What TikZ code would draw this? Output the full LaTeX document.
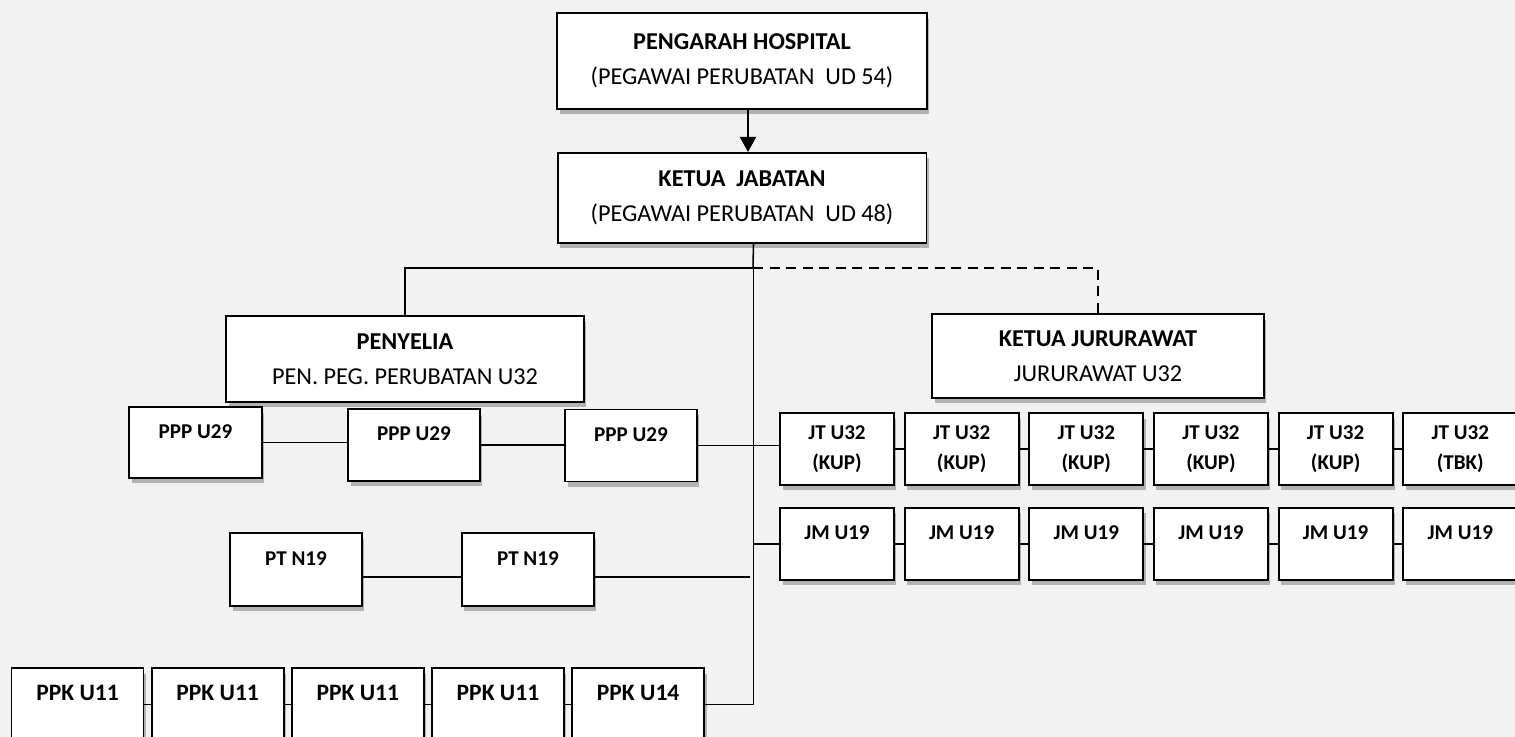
\documentclass[tikz,border=0pt]{standalone}
\usepackage{fontspec}
\setmainfont{Carlito}
\usepackage{xcolor}
\usepackage{tikz}
\usetikzlibrary{arrows.meta,positioning,shadows}
\definecolor{bgcol}{HTML}{F2F2F2}

\begin{document}
\begin{tikzpicture}[
  x=0.02cm, y=-0.02cm,
  boxshadow/.style = {drop shadow={shadow xshift=0.05cm, shadow yshift=-0.11cm,
                      fill=black!60, opacity=0.45}},
  head/.style = {draw, line width=1.1pt, fill=white, align=center,
                 font=\fontsize{13.8}{20}\selectfont, boxshadow},
  cell/.style = {draw, line width=1.1pt, fill=white, align=center,
                 minimum width=2.28cm, minimum height=1.44cm, inner sep=0pt,
                 font=\fontsize{12}{17}\selectfont\bfseries, boxshadow},
  wide/.style = {minimum width=2.64cm},
  single/.style = {text height=0.3cm, text depth=0.47cm},
  link/.style = {line width=0.9pt},
  arr/.style  = {-{Triangle[length=0.3cm, width=0.32cm]}, line width=1.1pt},
]

\fill[bgcol] (0,0) rectangle (1515,737);
\useasboundingbox (0,0) rectangle (1515,737);

% top of the chart
\node[head, minimum width=7.4cm, minimum height=1.92cm] (dir) at (742,61)
  {\textbf{PENGARAH HOSPITAL}\\(PEGAWAI PERUBATAN\ \ UD 54)};
\node[head, minimum width=7.38cm, minimum height=1.8cm, below=0.84cm of dir]
  (jab) {\textbf{KETUA\ \ JABATAN}\\(PEGAWAI PERUBATAN\ \ UD 48)};
\draw[arr] ([xshift=0.12cm]dir.south) -- ([xshift=0.12cm]jab.north);

\node[head, minimum width=7.16cm, minimum height=1.72cm] (pen) at (405,359)
  {\textbf{PENYELIA}\\PEN. PEG. PERUBATAN U32};
\node[head, minimum width=6.64cm, minimum height=1.68cm] (kj) at (1098,356)
  {\textbf{KETUA JURURAWAT}\\JURURAWAT U32};

\coordinate (stem) at ([xshift=0.23cm]jab.south);
\coordinate (fork) at (753,268);
\draw[link] (pen.north) |- (fork);
\draw[link, dash pattern=on 5.7pt off 3.7pt] (fork) -| (kj.north);
\draw[link] (stem) -- (fork);

% PPP row
\node[cell, wide, single, minimum width=2.66cm, minimum height=1.42cm]
  (ppp1) at (195.5,442.5) {PPP U29};
\node[cell, wide, single] (ppp2) at (414,445) {PPP U29};
\node[cell, wide, single] (ppp3) at (631,445.5) {PPP U29};

% JT row
\node[cell] (jt1) at (837,449) {JT U32\\(KUP)};
\node[cell, right=0.175cm of jt1] (jt2) {JT U32\\(KUP)};
\node[cell, right=0.175cm of jt2] (jt3) {JT U32\\(KUP)};
\node[cell, right=0.175cm of jt3] (jt4) {JT U32\\(KUP)};
\node[cell, right=0.175cm of jt4] (jt5) {JT U32\\(KUP)};
\node[cell, right=0.175cm of jt5] (jt6) {JT U32\\(TBK)};

% JM row
\node[cell, single, below=0.42cm of jt1] (jm1) {JM U19};
\node[cell, single, right=0.175cm of jm1] (jm2) {JM U19};
\node[cell, single, right=0.175cm of jm2] (jm3) {JM U19};
\node[cell, single, right=0.175cm of jm3] (jm4) {JM U19};
\node[cell, single, right=0.175cm of jm4] (jm5) {JM U19};
\node[cell, single, right=0.175cm of jm5] (jm6) {JM U19};

% PT row
\node[cell, wide, single, minimum height=1.46cm] (pt1) at (296,569.5) {PT N19};
\node[cell, wide, single, minimum height=1.46cm, right=1.96cm of pt1] (pt2) {PT N19};
\coordinate (ptend) at (750,577);

% PPK row
\tikzset{ppk/.style={cell, wide, single, minimum height=1.46cm,
                     font=\fontsize{13.4}{17}\selectfont\bfseries}}
\node[ppk] (ppk1) at (77.5,704.5) {PPK U11};
\node[ppk, right=0.125cm of ppk1] (ppk2) {PPK U11};
\node[ppk, right=0.125cm of ppk2] (ppk3) {PPK U11};
\node[ppk, right=0.125cm of ppk3] (ppk4) {PPK U11};
\node[ppk, right=0.125cm of ppk4] (ppk5) {PPK U14};

% connectors
\draw[link] (stem) |- (ppk5.east);
\draw[link] (ppp1.east) -- (ppp1.east -| ppp2.west);
\draw[link] (ppp2.east) -- (ppp2.east -| ppp3.west);
\draw[link] (ppp3.east) -- (ppp3.east -| jt1.west);
\draw[link] (jt1.east) -- (jt2.west);
\draw[link] (jt2.east) -- (jt3.west);
\draw[link] (jt3.east) -- (jt4.west);
\draw[link] (jt4.east) -- (jt5.west);
\draw[link] (jt5.east) -- (jt6.west);
\draw[link] (stem |- jm1.west) -- (jm1.west);
\draw[link] (jm1.east) -- (jm2.west);
\draw[link] (jm2.east) -- (jm3.west);
\draw[link] (jm3.east) -- (jm4.west);
\draw[link] (jm4.east) -- (jm5.west);
\draw[link] (jm5.east) -- (jm6.west);
\draw[link] ([yshift=-0.15cm]pt1.east) -- ([yshift=-0.15cm]pt2.west);
\draw[link] ([yshift=-0.15cm]pt2.east) -- (ptend);
\draw[link] (ppk1.east) -- (ppk2.west);
\draw[link] (ppk2.east) -- (ppk3.west);
\draw[link] (ppk3.east) -- (ppk4.west);
\draw[link] (ppk4.east) -- (ppk5.west);

\end{tikzpicture}
\end{document}
